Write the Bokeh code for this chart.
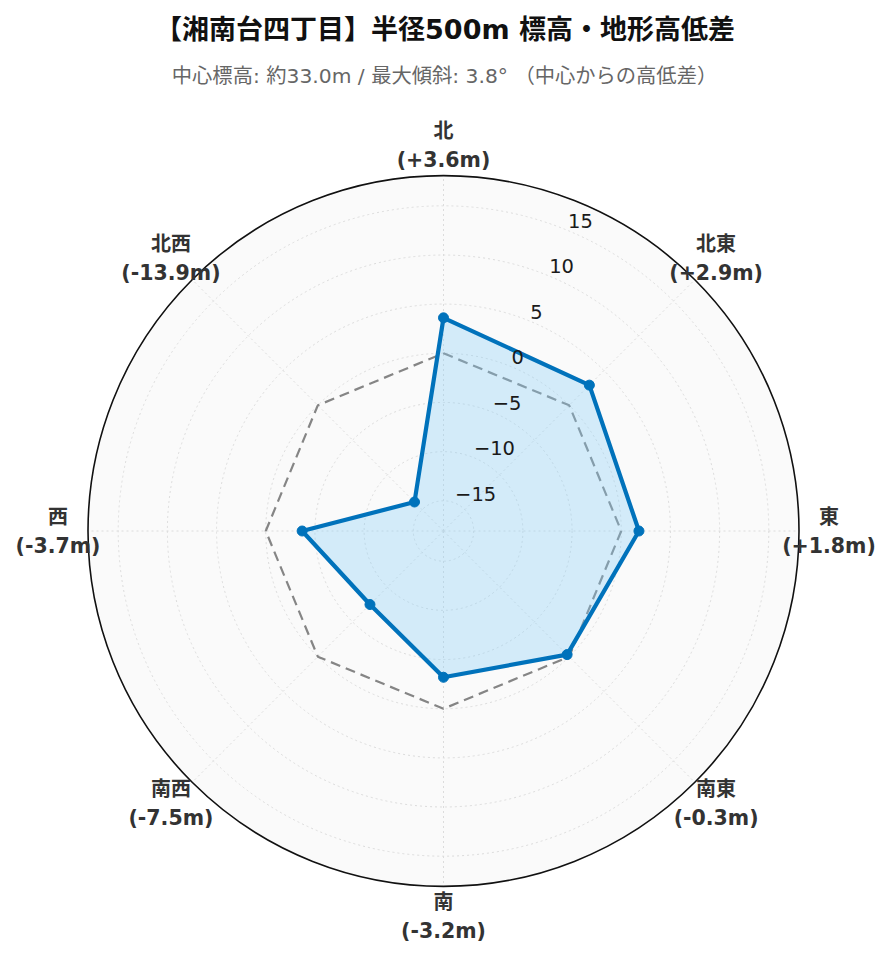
import numpy as np
from bokeh.plotting import figure
from bokeh.models import Range1d, ColumnDataSource
from bokeh.core.properties import value
from bokeh.embed import file_html
from bokeh.resources import INLINE

# ---- data ----
directions = ["北", "北東", "東", "南東", "南", "南西", "西", "北西"]
diffs = [3.6, 2.9, 1.8, -0.3, -3.2, -7.5, -3.7, -13.9]
reference = [0, 0, 0, 0, 0, 0, 0, 0]
radial_ticks = [-15, -10, -5, 0, 5, 10, 15]
title_text = "【湘南台四丁目】半径500m 標高・地形高低差"
subtitle_text = "中心標高: 約33.0m / 最大傾斜: 3.8° （中心からの高低差）"

# ---- radial scale ----
r_lim = 1.3 * max(abs(v) for v in diffs)
r_min, r_max = -r_lim, r_lim
R_PX = 355.5  # outer radius in pixels
scale = R_PX / (r_max - r_min)
tick_angle = np.deg2rad(22.5)

def rad(v):
    return (np.asarray(v, dtype=float) - r_min) * scale

theta = np.deg2rad(np.arange(len(directions)) * 360.0 / len(directions))

def to_xy(vals):
    r = rad(vals)
    return r * np.sin(theta), r * np.cos(theta)

W, H = 885, 956
CX, CY = 443, 530.5  # polar centre in page pixels
p = figure(width=W, height=H, output_backend="svg", toolbar_location=None,
           x_range=Range1d(-CX, W - CX), y_range=Range1d(CY - H, CY),
           min_border=0, background_fill_color="white", border_fill_color="white")
p.axis.visible = False
p.grid.visible = False
p.outline_line_color = None

CJK = "DejaVu Sans, Noto Sans CJK JP"

# polar background
p.circle(x=[0], y=[0], radius=[R_PX], fill_color="#fafafa", line_color=None)

# radial grid circles
p.circle(x=[0] * len(radial_ticks), y=[0] * len(radial_ticks), radius=rad(radial_ticks),
         fill_color=None, line_color="#dcdcdc", line_width=1, line_dash="2 3")

# angular spokes
p.segment(x0=np.zeros(len(theta)), y0=np.zeros(len(theta)),
          x1=R_PX * np.sin(theta), y1=R_PX * np.cos(theta),
          line_color="#dcdcdc", line_width=1, line_dash="2 3")

# outer circle
p.circle(x=[0], y=[0], radius=[R_PX], fill_color=None, line_color="#111111", line_width=1.6)

# reference (0 m) dashed polygon
rx, ry = to_xy(reference)
p.line(np.append(rx, rx[0]), np.append(ry, ry[0]), line_color="#858585",
       line_width=2.2, line_dash="10 6")

# data polygon
dx, dy = to_xy(diffs)
p.patch(dx, dy, fill_color="#87cefa", fill_alpha=0.33, line_color=None)
p.line(np.append(dx, dx[0]), np.append(dy, dy[0]), line_color="#0072bb", line_width=4.2,
       line_join="round")
p.scatter(dx, dy, size=10, fill_color="#0072bb", line_color="#0072bb")

# radial tick labels
tr = rad(radial_ticks)
tick_src = ColumnDataSource(dict(x=tr * np.sin(tick_angle), y=tr * np.cos(tick_angle),
                                 t=[str(v).replace("-", "\u2212") for v in radial_ticks]))
p.text(x="x", y="y", text="t", source=tick_src, text_align="left", text_baseline="middle",
       y_offset=-9.5, text_font=value("DejaVu Sans"), text_font_size="19.5px",
       text_color="#1a1a1a")

# angular labels
LD = 385.5
lab_src = ColumnDataSource(dict(x=LD * np.sin(theta), y=LD * np.cos(theta),
                                name=directions,
                                val=[f"({v:+.1f}m)" for v in diffs]))
p.text(x="x", y="y", text="name", source=lab_src, text_align="center",
       text_baseline="middle", y_offset=-14.5, text_font=value(CJK),
       text_font_style="bold", text_font_size="20px", text_color="#333333")
p.text(x="x", y="y", text="val", source=lab_src, text_align="center",
       text_baseline="middle", y_offset=14.5, text_font=value(CJK),
       text_font_style="bold", text_font_size="20.5px", text_color="#333333")

# title / subtitle
p.text(x=[1.5], y=[501.5], text=[title_text], text_align="center", text_baseline="middle",
       text_font=value(CJK), text_font_style="bold", text_font_size="27px",
       text_color="#111111")
p.text(x=[1], y=[455.5], text=[subtitle_text], text_align="center", text_baseline="middle",
       text_font=value(CJK), text_font_size="20.3px", text_color="#666666")

open("out.html", "w").write(file_html(p, INLINE))
